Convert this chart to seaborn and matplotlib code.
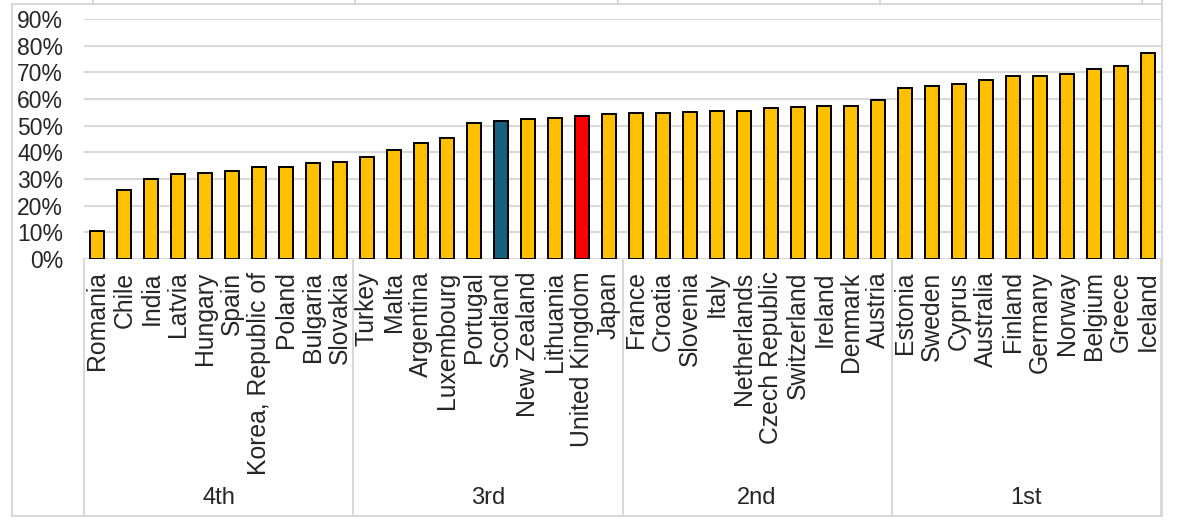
import matplotlib
matplotlib.use('Agg')
import matplotlib.pyplot as plt
from matplotlib.lines import Line2D
from matplotlib.ticker import PercentFormatter, MultipleLocator
import matplotlib.transforms as mtransforms
import pandas as pd
import seaborn as sns

countries = [
    "Romania", "Chile", "India", "Latvia", "Hungary", "Spain",
    "Korea, Republic of", "Poland", "Bulgaria", "Slovakia",
    "Turkey", "Malta", "Argentina", "Luxembourg", "Portugal", "Scotland",
    "New Zealand", "Lithuania", "United Kingdom", "Japan",
    "France", "Croatia", "Slovenia", "Italy", "Netherlands", "Czech Republic",
    "Switzerland", "Ireland", "Denmark", "Austria",
    "Estonia", "Sweden", "Cyprus", "Australia", "Finland", "Germany",
    "Norway", "Belgium", "Greece", "Iceland",
]
values = [
    0.106, 0.259, 0.300, 0.320, 0.324, 0.331, 0.346, 0.346, 0.361, 0.365,
    0.384, 0.409, 0.436, 0.455, 0.511, 0.519, 0.526, 0.530, 0.537, 0.545,
    0.549, 0.549, 0.552, 0.556, 0.556, 0.567, 0.571, 0.575, 0.575, 0.597,
    0.642, 0.650, 0.657, 0.672, 0.687, 0.687, 0.695, 0.714, 0.725, 0.774,
]
quartiles = ["4th", "3rd", "2nd", "1st"]
per_group = 10

base_color = "#FFC000"
highlight = {"Scotland": "#17607F", "United Kingdom": "#FF0000"}
grey = "#D9D9D9"

df = pd.DataFrame({"country": countries, "share": values})
palette = {c: highlight.get(c, base_color) for c in countries}

sns.set_style("white")
plt.rcParams["font.family"] = ["Liberation Sans", "DejaVu Sans"]

W, H = 1178, 526
fig = plt.figure(figsize=(W / 100, H / 100), dpi=100)
ax_left, ax_right, ax_bottom, ax_top = 84, 1161, 259, 19
ax = fig.add_axes([ax_left / W, 1 - ax_bottom / H,
                   (ax_right - ax_left) / W, (ax_bottom - ax_top) / H])

sns.barplot(data=df, x="country", y="share", hue="country", palette=palette,
            order=countries, hue_order=countries, legend=False,
            width=0.52, edgecolor="black", linewidth=1.4, saturation=1,
            ax=ax, zorder=3)

ax.set_ylim(0, 0.9)
ax.set_xlim(-0.5, len(countries) - 0.5)
ax.yaxis.set_major_locator(MultipleLocator(0.1))
ax.yaxis.set_major_formatter(PercentFormatter(1.0, decimals=0))
ax.grid(axis="y", color=grey, linewidth=1.5, zorder=0)
ax.set_axisbelow(True)
for s in ax.spines.values():
    s.set_visible(False)
ax.set_xlabel("")
ax.set_ylabel("")
ax.tick_params(axis="y", length=0, pad=15, labelsize=16.5)
ax.tick_params(axis="x", length=0, pad=9, labelsize=17.8, labelrotation=90)

# multi-level category axis: separators and quartile labels
trans = mtransforms.blended_transform_factory(ax.transData, ax.transAxes)
depth = (516 - ax_bottom) / (ax_bottom - ax_top)
for i in range(len(quartiles) + 1):
    x = i * per_group - 0.5
    ax.plot([x, x], [0, -depth], color=grey, linewidth=1.5,
            transform=trans, clip_on=False)
for i, q in enumerate(quartiles):
    xc = i * per_group + (per_group - 1) / 2
    ax.text(xc, -(498 - ax_bottom) / (ax_bottom - ax_top), q,
            transform=trans, ha="center", va="center", fontsize=17)

# outer chart frame
def fig_line(x0, y0, x1, y1):
    fig.add_artist(Line2D([x0 / W, x1 / W], [1 - y0 / H, 1 - y1 / H],
                          color=grey, linewidth=1.5))

fig_line(12, 4, 1162, 4)
fig_line(12, 4, 12, 516)
fig_line(1162, 0, 1162, 516)
fig_line(12, 516, 1162, 516)
for x in [93, 355, 618, 880, 1142]:
    fig_line(x, 0, x, 4)

fig.savefig("out.png", dpi=100)
